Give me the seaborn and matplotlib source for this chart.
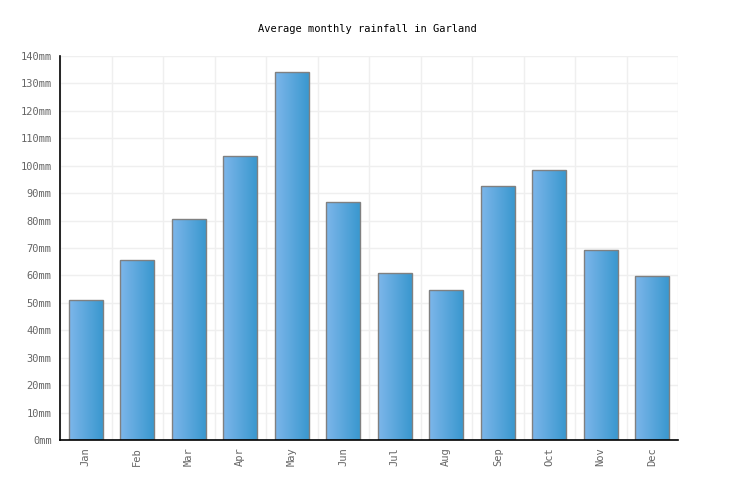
import numpy as np
import pandas as pd
import matplotlib
matplotlib.use("Agg")
import matplotlib.pyplot as plt
from matplotlib.colors import LinearSegmentedColormap
from matplotlib.ticker import FuncFormatter, MultipleLocator
import seaborn as sns

# -----------------------------
# DATA
# -----------------------------
months = ["Jan", "Feb", "Mar", "Apr", "May", "Jun",
          "Jul", "Aug", "Sep", "Oct", "Nov", "Dec"]
rainfall_mm = [51.0, 65.5, 80.5, 103.5, 134.1, 86.7,
               60.8, 54.6, 92.5, 98.4, 69.2, 59.7]
title = "Average monthly rainfall in Garland"

df = pd.DataFrame({"month": months, "rain": rainfall_mm})

# -----------------------------
# STYLE
# -----------------------------
sns.set_style("white")
plt.rcParams['font.family'] = ['DejaVu Sans Mono']
plt.rcParams['font.size'] = 7.5

fig = plt.figure(figsize=(7.36, 5.0), dpi=100)
ax = fig.add_axes([60 / 736, 60 / 500, 618 / 736, 384 / 500])

sns.barplot(data=df, x="month", y="rain", ax=ax, width=0.66,
            color="#5aa7dc", edgecolor="#808080", linewidth=1.0, zorder=3)

# gradient fill for each bar
grad = LinearSegmentedColormap.from_list("g", ["#7db6ea", "#3a98cf"])
gimg = np.linspace(0, 1, 64).reshape(1, -1)
for p in ax.patches:
    x0, y0 = p.get_x(), p.get_y()
    w, h = p.get_width(), p.get_height()
    im = ax.imshow(gimg, cmap=grad, aspect="auto",
                   extent=[x0, x0 + w, y0, y0 + h], zorder=3.5)
    im.set_clip_path(p)
    p.set_facecolor("none")
    p.set_zorder(4)

ax.set_xlim(-0.5, len(months) - 0.5)
ax.set_ylim(0, 140)
ax.yaxis.set_major_locator(MultipleLocator(10))
ax.yaxis.set_major_formatter(FuncFormatter(lambda v, _: f"{int(v)}mm"))

# grid: horizontal at ticks, vertical between categories
ax.set_xticks(np.arange(-0.5, len(months), 1), minor=True)
ax.grid(axis="y", which="major", color="#efefef", linewidth=1, zorder=0)
ax.grid(axis="x", which="minor", color="#efefef", linewidth=1, zorder=0)
ax.set_axisbelow(True)

ax.set_xlabel("")
ax.set_ylabel("")
ax.tick_params(axis="both", which="both", length=0, colors="#666666",
               labelsize=7.5)
ax.tick_params(axis="y", pad=6)
ax.tick_params(axis="x", pad=5)
plt.setp(ax.get_xticklabels(), rotation=90)

for side in ["top", "right"]:
    ax.spines[side].set_visible(False)
for side in ["left", "bottom"]:
    ax.spines[side].set_color("black")
    ax.spines[side].set_linewidth(1.2)
    ax.spines[side].set_zorder(5)

fig.text(367 / 736, 1 - 29 / 500, title, ha="center", va="center",
         fontsize=7.5, color="black")

fig.savefig("out.png", dpi=100)
